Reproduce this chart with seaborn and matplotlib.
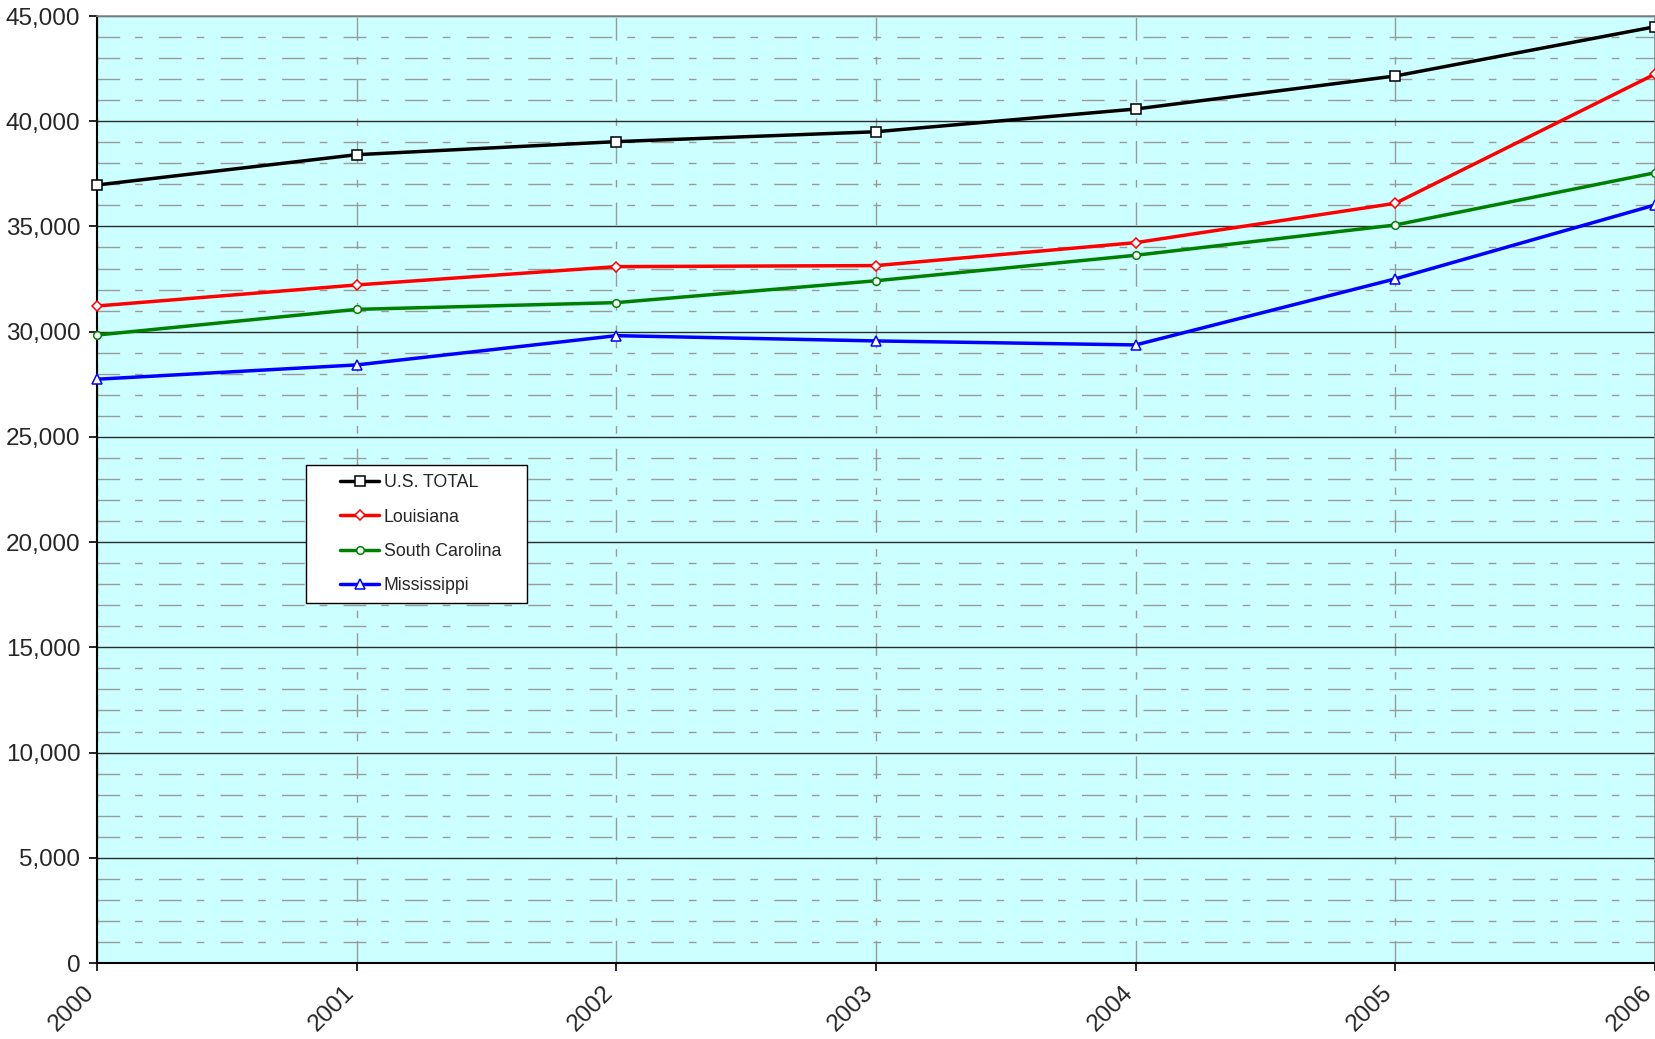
import matplotlib
matplotlib.use("Agg")
import matplotlib.pyplot as plt
import matplotlib.transforms as mtransforms
from matplotlib.patches import Rectangle
from matplotlib.ticker import MultipleLocator, FuncFormatter
import pandas as pd
import seaborn as sns

# Average salary by year
years = [2000, 2001, 2002, 2003, 2004, 2005, 2006]
us_total = [36970, 38410, 39030, 39500, 40580, 42150, 44490]
louisiana = [31220, 32220, 33090, 33140, 34230, 36100, 42240]
south_carolina = [29840, 31060, 31380, 32420, 33630, 35070, 37550]
mississippi = [27740, 28420, 29810, 29560, 29370, 32510, 36020]

series_names = ["U.S. TOTAL", "Louisiana", "South Carolina", "Mississippi"]
series_values = [us_total, louisiana, south_carolina, mississippi]
series_colors = ["#000000", "#FF0000", "#008000", "#0000FF"]
series_markers = ["s", "D", "o", "^"]
marker_sizes = [6.5, 5.0, 5.5, 7.0]

rows = []
for name, vals in zip(series_names, series_values):
    for yr, v in zip(years, vals):
        rows.append({"year": yr, "salary": v, "series": name})
df = pd.DataFrame(rows)

sns.set_theme(style="white")
plt.rcParams["font.family"] = ["Liberation Sans", "DejaVu Sans"]

fig = plt.figure(figsize=(16.56, 10.39), dpi=100)
ax = fig.add_axes([97 / 1656, 76 / 1039, 1558 / 1656, 947 / 1039])
ax.set_facecolor("#CCFFFF")

sns.lineplot(
    data=df, x="year", y="salary", hue="series", style="series",
    hue_order=series_names, style_order=series_names,
    palette=dict(zip(series_names, series_colors)),
    markers=dict(zip(series_names, series_markers)),
    dashes=False, legend=False, linewidth=2.5, ax=ax, zorder=5,
)

for line, col, ms in zip(ax.lines, series_colors, marker_sizes):
    line.set_markerfacecolor("white")
    line.set_markeredgecolor(col)
    line.set_markeredgewidth(1.1)
    line.set_markersize(ms)
    line.set_clip_on(False)

ax.set_xlim(2000, 2006)
ax.set_ylim(0, 45000)
ax.set_xticks(years)
ax.set_xticklabels([str(y) for y in years])
ax.yaxis.set_major_locator(MultipleLocator(5000))
ax.yaxis.set_minor_locator(MultipleLocator(1000))
ax.yaxis.set_major_formatter(FuncFormatter(lambda v, p: f"{int(v):,}"))
ax.set_xlabel("")
ax.set_ylabel("")

dash = (0, (16.3, 10.8, 5.5, 11.7))
ax.grid(False)
ax.yaxis.grid(True, which="major", color="#2b2b2b", linewidth=1.0, linestyle="-")
ax.yaxis.grid(True, which="minor", color="#9a9a9a", linewidth=1.0, linestyle=dash)
ax.xaxis.grid(True, which="major", color="#9a9a9a", linewidth=1.0, linestyle=dash)
ax.set_axisbelow(True)

ax.tick_params(axis="y", which="major", direction="out", length=6, width=1.2,
               color="#000000", pad=6, labelsize=17.5, left=True)
ax.tick_params(axis="y", which="minor", length=0)
ax.tick_params(axis="x", which="major", direction="out", length=6, width=1.2,
               color="#000000", pad=13, labelsize=17.5, bottom=True)

shift = mtransforms.ScaledTranslation(-6 / 100, 0, fig.dpi_scale_trans)
for lbl in ax.get_xticklabels():
    lbl.set_rotation(45)
    lbl.set_ha("right")
    lbl.set_va("center")
    lbl.set_rotation_mode("anchor")
    lbl.set_transform(lbl.get_transform() + shift)

for side in ["left", "bottom"]:
    ax.spines[side].set_color("#000000")
    ax.spines[side].set_linewidth(1.5)
for side in ["top", "right"]:
    ax.spines[side].set_color("#8a8a8a")
    ax.spines[side].set_linewidth(1.2)

# Legend box
frame = Rectangle((0.1341, 0.3802), 0.1418, 0.1457, transform=ax.transAxes,
                  facecolor="white", edgecolor="black", linewidth=1.0, zorder=8)
ax.add_patch(frame)
leg = ax.legend(
    handles=list(ax.lines[:4]), labels=series_names,
    loc="upper left", bbox_to_anchor=(0.156, 0.516), borderaxespad=0,
    borderpad=0, frameon=False, fontsize=12.8, labelspacing=0.97,
    handlelength=2.2, handletextpad=0.25,
)
leg.set_zorder(9)

fig.savefig("out.png", dpi=100)
